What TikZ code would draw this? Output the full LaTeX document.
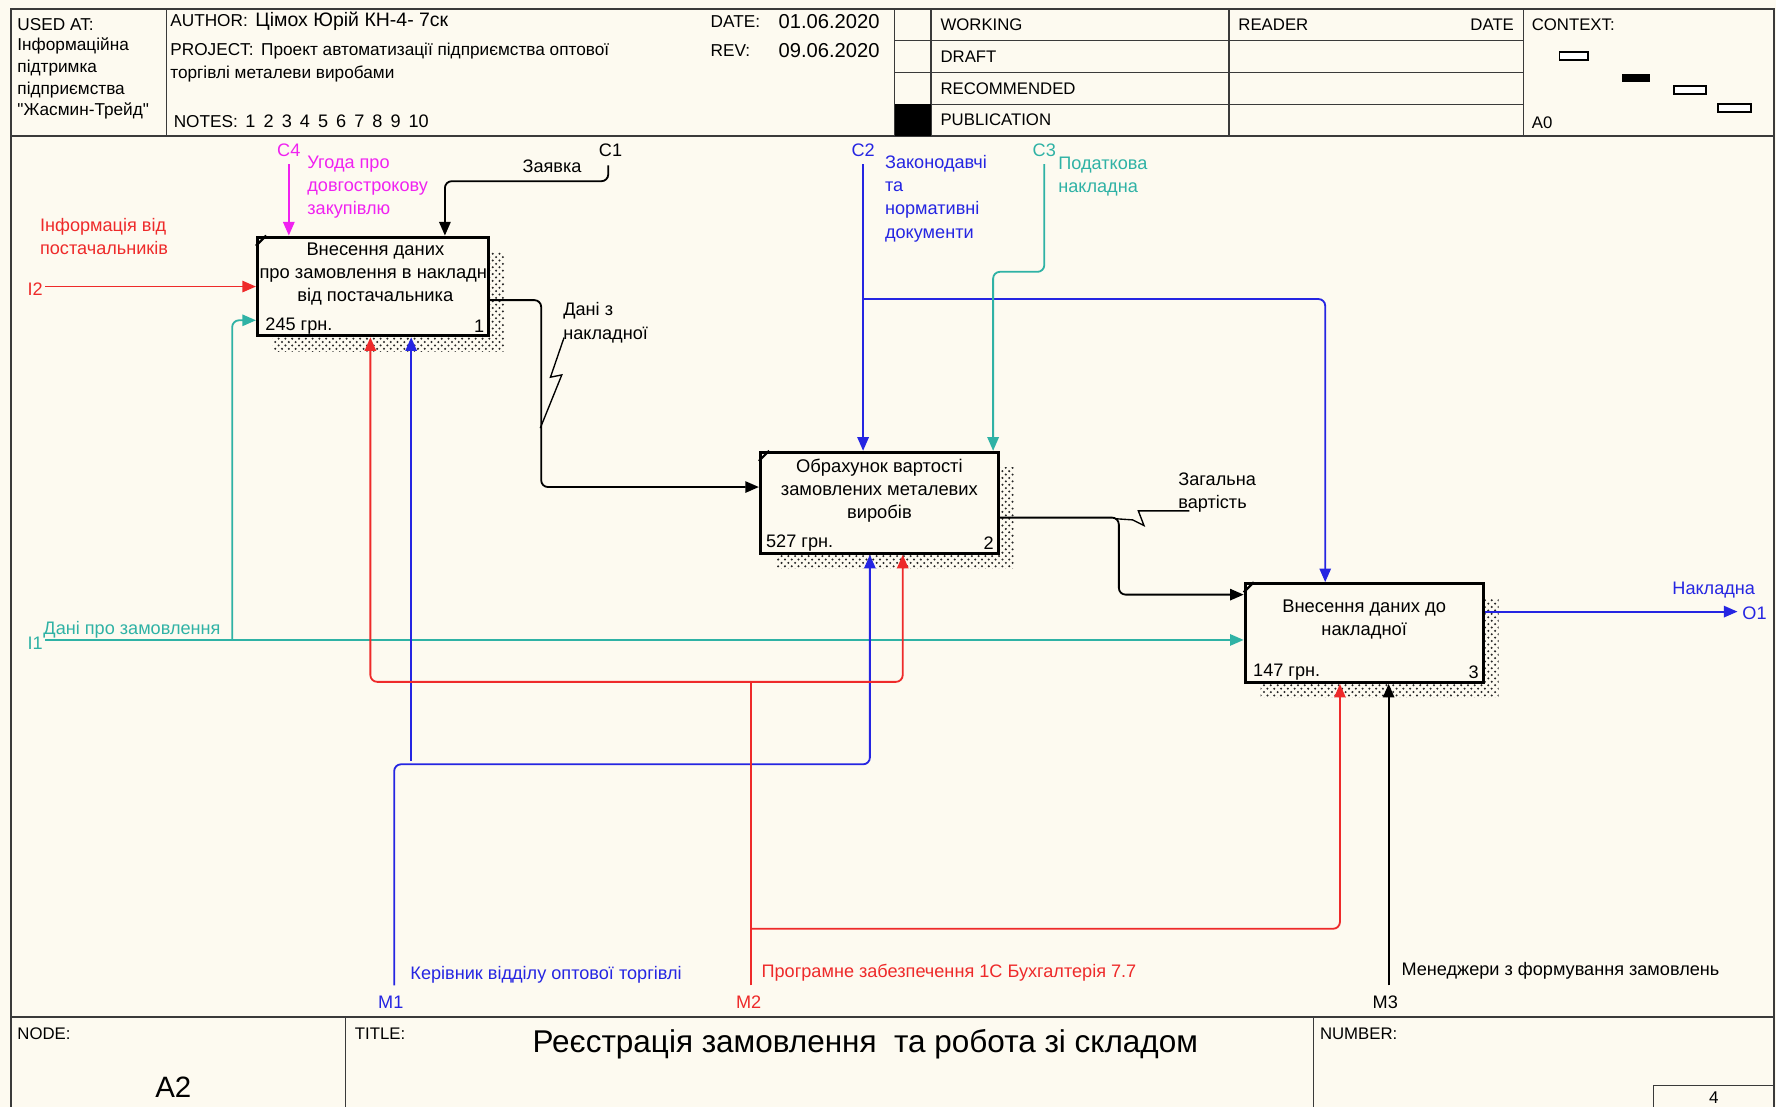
\documentclass[tikz,border=0pt]{standalone}
\usepackage{fontspec}
\setmainfont{Liberation Sans}
\newfontfamily\plainq{Liberation Sans}
\usetikzlibrary{arrows.meta,calc,patterns}
\definecolor{bg}{HTML}{FDFAF0}
\definecolor{cred}{HTML}{EE2A2A}
\definecolor{cblue}{HTML}{2525E2}
\definecolor{cteal}{HTML}{2FB2A5}
\definecolor{cmag}{HTML}{F022F0}
\definecolor{cframe}{HTML}{3A3A3A}
\begin{document}
\begin{tikzpicture}[x=0.5pt,y=-0.5pt,
  lbl/.style={font=\fontsize{8}{10.2}\selectfont, inner sep=0pt, align=left},
  hdr/.style={font=\fontsize{7.6}{9.5}\selectfont, inner sep=0pt, anchor=west},
  pbox/.style={draw, line width=1.4pt, fill=bg, inner sep=0pt, anchor=north west},
  btxt/.style={font=\fontsize{8.1}{10.2}\selectfont, inner sep=0pt, align=center, anchor=north},
  arr/.style={line width=0.8pt, rounded corners=3pt, -{Triangle[length=6pt,width=5pt]}},
  ln/.style={line width=0.8pt, rounded corners=3pt},
  gl/.style={line width=0.5pt, cframe},
  hatch/.style={pattern=crosshatch dots, pattern color=black!85},
]
\fill[bg] (0,0) rectangle (1568,977);
\useasboundingbox (0,0) rectangle (1568,977);

% ---------- frame ----------
\draw[line width=1pt, cframe] (10,985) -- (10,8) -- (1566,8) -- (1566,985);
\draw[line width=1pt, cframe] (10,120) -- (1566,120);
\draw[line width=1.2pt, cframe] (10,898) -- (1566,898);

% header grid
\draw[gl] (147,8) -- (147,120);
\draw[gl] (790,8) -- (790,120);
\draw[gl] (822,8) -- (822,120);
\draw[gl] (1085,8) -- (1085,120);
\draw[gl] (1345,8) -- (1345,120);
\foreach \yy in {36,64,92} \draw[gl] (790,\yy) -- (1345,\yy);
\fill[black] (790,92) rectangle (822,120);

% header text
\node[hdr] (usedat) at (15,22) {USED AT:};
\node[hdr, anchor=north west, align=left, font=\fontsize{7.6}{9.6}\selectfont] (usedtxt) at (15,33) {Інформаційна\\підтримка\\підприємства\\{\plainq"Жасмин-Трейд"}};
\node[hdr] (author) at (150,19) {AUTHOR:\, {\fontsize{8.6}{9}\selectfont Цімох Юрій КН-4- 7ск}};
\node[hdr] (project) at (150,45) {PROJECT:\, Проект автоматизації підприємства оптової};
\node[hdr] (project2) at (150,65) {торгівлі металеви виробами};
\node[hdr] (notes) at (153,107) {NOTES:\, {\fontsize{8}{9}\selectfont 1\, 2\, 3\, 4\, 5\, 6\, 7\, 8\, 9\, 10}};
\node[hdr] (datel) at (627,19) {DATE:};
\node[hdr, font=\fontsize{8.9}{9}\selectfont] (datev) at (687,19) {01.06.2020};
\node[hdr] (revl) at (627,45) {REV:};
\node[hdr, font=\fontsize{8.9}{9}\selectfont] (revv) at (687,45) {09.06.2020};
\node[hdr, font=\fontsize{7.4}{9}\selectfont] (working) at (830,22) {WORKING};
\node[hdr, font=\fontsize{7.4}{9}\selectfont] (draft) at (830,50) {DRAFT};
\node[hdr, font=\fontsize{7.4}{9}\selectfont] (recom) at (830,78) {RECOMMENDED};
\node[hdr, font=\fontsize{7.4}{9}\selectfont] (publ) at (830,106) {PUBLICATION};
\node[hdr, font=\fontsize{7.4}{9}\selectfont] (reader) at (1093,22) {READER};
\node[hdr, font=\fontsize{7.4}{9}\selectfont, anchor=east] (rdate) at (1337,22) {DATE};
\node[hdr, font=\fontsize{7.4}{9}\selectfont] (context) at (1352,22) {CONTEXT:};
\node[hdr, font=\fontsize{7.4}{9}\selectfont] (a0) at (1352,108) {A0};
\draw[line width=0.7pt, fill=white] (1377,46) rectangle (1402,53);
\fill[black] (1432,65) rectangle (1457,72);
\draw[line width=0.7pt, fill=white] (1478,76) rectangle (1506,83);
\draw[line width=0.7pt, fill=white] (1517,92) rectangle (1546,99);

% footer
\draw[gl] (305,898) -- (305,985);
\draw[gl] (1160,898) -- (1160,985);
\node[hdr, font=\fontsize{7.4}{9}\selectfont] (nodel) at (15,913) {NODE:};
\node[font=\fontsize{13}{15}\selectfont, inner sep=0pt] (nodev) at (153,960) {A2};
\node[hdr, font=\fontsize{7.4}{9}\selectfont] (titlel) at (313,913) {TITLE:};
\node[font=\fontsize{13.9}{15}\selectfont, inner sep=0pt] (titlev) at (764,922) {Реєстрація замовлення \ та робота зі складом};
\node[hdr, font=\fontsize{7.4}{9}\selectfont] (numl) at (1165,913) {NUMBER:};
\draw[gl] (1460,985) -- (1460,958) -- (1566,958);
\node[hdr, anchor=center, font=\fontsize{7.5}{8}\selectfont] (numv) at (1513,969) {4};

% ---------- shadows ----------
\fill[hatch] (241,223) rectangle (445,310);
\fill[hatch] (685,413) rectangle (895,502);
\fill[hatch] (1113,529) rectangle (1323,616);

% ---------- boxes ----------
\node[pbox, minimum width=102pt, minimum height=43.5pt] (B1) at (226,208) {};
\node[pbox, minimum width=105pt, minimum height=44.5pt] (B2) at (670,398) {};
\node[pbox, minimum width=105pt, minimum height=43.5pt] (B3) at (1098,514) {};
\foreach \b in {B1,B2,B3}
  \draw[line width=1pt] ($(\b.north west)+(0,9)$) -- ($(\b.north west)+(9,0)$);

\node[btxt] (B1t) at ($(B1.north)+(2,6)$) {Внесення даних\\про замовлення в накладні\\від постачальника};
\node[btxt] (B2t) at ($(B2.north)+(0,7)$) {Обрахунок вартості\\замовлених металевих\\виробів};
\node[btxt] (B3t) at ($(B3.north)+(0,15)$) {Внесення даних до\\накладної};
\node[lbl, anchor=west] (B1c) at ($(B1.south west)+(8,-10)$) {245 грн.};
\node[lbl, anchor=east] (B1n) at ($(B1.south east)+(-5,-10)$) {1};
\node[lbl, anchor=west] (B2c) at ($(B2.south west)+(6,-10)$) {527 грн.};
\node[lbl, anchor=east] (B2n) at ($(B2.south east)+(-5,-10)$) {2};
\node[lbl, anchor=west] (B3c) at ($(B3.south west)+(8,-10)$) {147 грн.};
\node[lbl, anchor=east] (B3n) at ($(B3.south east)+(-5,-10)$) {3};

% ---------- connectors ----------
% I2
\coordinate (I2) at (40,253);
\draw[arr,cred] (I2) -- ($(B1.north west)+(0,45)$);
% I1
\coordinate (I1) at (40,565);
\coordinate (I1j) at (205,565);
\draw[arr,cteal] (I1) -- (I1 -| B3.west);
\draw[arr,cteal] (I1j) |- ($(B1.south west)+(0,-15)$);
% C4
\coordinate (C4) at (255,145);
\draw[arr,cmag] (C4) -- (C4 |- B1.north);
% C1
\coordinate (C1) at (537,146);
\draw[arr,black] (C1) |- ($(B1.north east)+(-40,-48)$) -- ($(B1.north east)+(-40,0)$);
% B1 -> B2
\draw[arr,black] ($(B1.north east)+(0,57)$) -- ++(45,0) |- ($(B2.north west)+(0,32)$);
% C2
\coordinate (C2) at (762,145);
\draw[arr,cblue] (C2) -- (C2 |- B2.north);
\coordinate (C2j) at (762,264);
\draw[arr,cblue] (C2j) -| ($(B3.north west)+(72,0)$);
% C3
\coordinate (C3) at (922,145);
\draw[arr,cteal] (C3) -- ++(0,95) -| ($(B2.north east)+(-6,0)$);
% B2 -> B3
\draw[arr,black] ($(B2.north east)+(0,59)$) -- ++(105,0) |- ($(B3.north west)+(0,11)$);
% O1
\coordinate (O1) at (1534,540);
\draw[arr,cblue] ($(B3.north east)+(0,26)$) -- (O1);
% M1
\coordinate (M1) at (348,870);
\draw[arr,cblue] (M1) |- ($(B2.south west)+(98,185)$) -- ($(B2.south west)+(98,0)$);
\coordinate (M1j) at (363,672);
\draw[arr,cblue] (M1j) -- ($(B1.south west)+(137,0)$);
% M2
\coordinate (M2) at (663,870);
\coordinate (M2j) at (663,602);
\coordinate (M2k) at (663,820);
\draw[ln,cred] (M2) -- (M2j);
\draw[arr,cred] (M2j) -| ($(B1.south west)+(101,0)$);
\draw[arr,cred] (M2j) -| ($(B2.south west)+(127,0)$);
\draw[arr,cred] (M2k) -| ($(B3.south west)+(85,0)$);
% M3
\coordinate (M3) at (1226,870);
\draw[arr,black] (M3) -- ($(B3.south west)+(128,0)$);

% squiggles
\draw[line width=0.6pt] (498,298) -- (486,333) -- (496,331) -- (477,378);
\draw[line width=0.6pt] (985,458) -- (1000,459) -- (1010,464) -- (1005,451) -- (1050,451);

% ---------- labels ----------
\node[lbl, text=cred, anchor=north west] (I2t) at (35,192) {Інформація від\\постачальників};
\node[lbl, text=cred, anchor=west] (I2l) at (24,255) {I2};
\node[lbl, text=cteal, anchor=west] (I1l) at (24,568) {I1};
\node[lbl, text=cteal, anchor=west] (I1t) at (38,556) {Дані про замовлення};
\node[lbl, text=cmag, anchor=center] (C4l) at (255,133) {C4};
\node[lbl, text=cmag, anchor=north west] (C4t) at (271,137) {Угода про\\довгострокову\\закупівлю};
\node[lbl, anchor=center] (C1l) at (539,133) {C1};
\node[lbl, anchor=west] (C1t) at (461,147) {Заявка};
\node[lbl, anchor=north west] (B1o) at (497,267) {Дані з\\накладної};
\node[lbl, text=cblue, anchor=center] (C2l) at (762,133) {C2};
\node[lbl, text=cblue, anchor=north west] (C2t) at (781,137) {Законодавчі\\та\\нормативні\\документи};
\node[lbl, text=cteal, anchor=center] (C3l) at (922,133) {C3};
\node[lbl, text=cteal, anchor=north west] (C3t) at (934,138) {Податкова\\накладна};
\node[lbl, anchor=north west] (B2o) at (1040,417) {Загальна\\вартість};
\node[lbl, text=cblue, anchor=center] (O1t) at (1513,521) {Накладна};
\node[lbl, text=cblue, anchor=west] (O1l) at (1538,541) {O1};
\node[lbl, text=cblue, anchor=west] (M1t) at (362,861) {Керівник відділу оптової торгівлі};
\node[lbl, text=cred, anchor=west] (M2t) at (672,859) {Програмне забезпечення 1С Бухгалтерія 7.7};
\node[lbl, anchor=west] (M3t) at (1237,857) {Менеджери з формування замовлень};
\node[lbl, text=cblue, anchor=center] (M1l) at (345,885) {M1};
\node[lbl, text=cred, anchor=center] (M2l) at (661,885) {M2};
\node[lbl, anchor=center] (M3l) at (1223,885) {M3};
\end{tikzpicture}
\end{document}
